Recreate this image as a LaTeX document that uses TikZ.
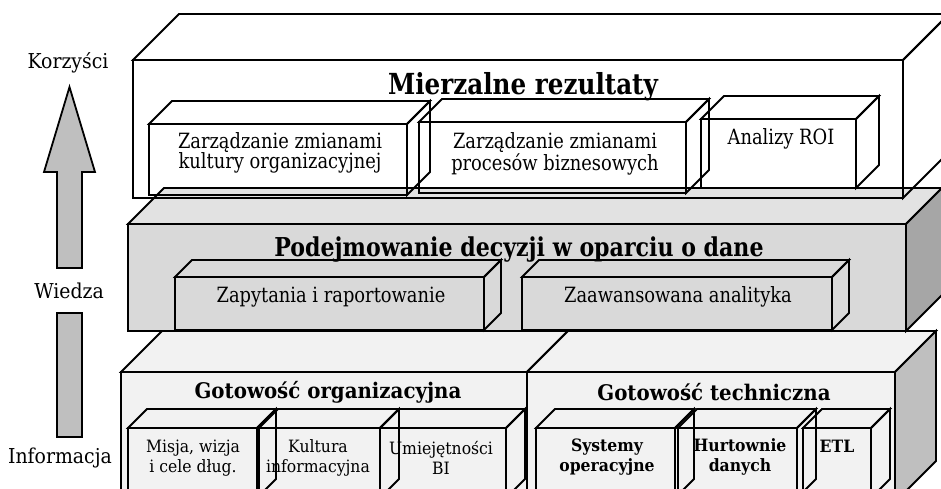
\documentclass[tikz,border=0pt]{standalone}
\usepackage{fontspec}
\setmainfont{DejaVu Serif}
\newfontfamily\narrowfont{DejaVu Serif}[FakeStretch=0.85]
\newfontfamily\widefont{DejaVu Serif}[FakeStretch=0.92]

\definecolor{palegray}{HTML}{F2F2F2}
\definecolor{palesidegray}{HTML}{BFBFBF}
\definecolor{midgray}{HTML}{D9D9D9}
\definecolor{midtopgray}{HTML}{E2E2E2}
\definecolor{midsidegray}{HTML}{A6A6A6}
\definecolor{arrowgray}{HTML}{BFBFBF}

\newcommand{\cuboid}[8]{%
  \filldraw[fill=#6] (#1,#2) rectangle ++(#3,#4);
  \filldraw[fill=#7] (#1,#2) -- ++(#5,-#5) -- ++(#3,0) -- ++(-#5,#5) -- cycle;
  \filldraw[fill=#8] (#1+#3,#2) -- ++(#5,-#5) -- ++(0,#4) -- ++(-#5,#5) -- cycle;
}

\tikzset{
  layertitle/.style={inner sep=0pt, font={\narrowfont\bfseries\fontsize{26}{30}\selectfont}},
  toptitle/.style={inner sep=0pt, font={\narrowfont\bfseries\fontsize{29}{32}\selectfont}},
  basetitle/.style={inner sep=0pt, font={\widefont\bfseries\fontsize{21.5}{24}\selectfont}},
  itemtext/.style={inner sep=0pt, align=center, font={\narrowfont\fontsize{21}{20}\selectfont}},
  baseitem/.style={inner sep=0pt, align=center, font={\widefont\fontsize{17}{20}\selectfont}},
  baseitembold/.style={baseitem, font={\widefont\bfseries\fontsize{17}{20}\selectfont}},
  sidelabel/.style={inner sep=2pt, font={\widefont\fontsize{20.5}{22}\selectfont}}
}

\begin{document}
\begin{tikzpicture}[x=1pt,y=-1pt,line width=1.8pt]
\useasboundingbox (0,0) rectangle (941,489);
\clip (0,0) rectangle (941,489);

\cuboid{121}{372}{406}{130}{41}{palegray}{palegray}{palesidegray}
\cuboid{527}{372}{368}{130}{41}{palegray}{palegray}{palesidegray}
\node[basetitle] (orgtitle) at (328,392) {Gotowość organizacyjna};
\node[basetitle] (techtitle) at (714,392) {Gotowość techniczna};

\cuboid{128}{428}{129}{70}{19}{none}{none}{none}
\cuboid{259}{428}{121}{70}{19}{none}{none}{none}
\cuboid{380}{428}{126}{70}{19}{none}{none}{none}
\node[baseitem] (mission) at (193,458) {Misja, wizja\\i cele dług.};
\node[baseitem] (culture) at (318,458) {Kultura\\informacyjna};
\node[baseitem] (skills) at (441,458) {Umiejętności\\BI};

\cuboid{536}{428}{139}{70}{19}{none}{none}{none}
\cuboid{678}{428}{119}{70}{19}{none}{none}{none}
\cuboid{803}{428}{68}{70}{19}{none}{none}{none}
\node[baseitembold] (opsys) at (607,457) {Systemy\\operacyjne};
\node[baseitembold] (warehouse) at (740,457) {Hurtownie\\danych};
\node[baseitembold] (etl) at (837,446) {ETL};

\cuboid{128}{224}{778}{107}{36}{midgray}{midtopgray}{midsidegray}
\node[layertitle] (decisions) at (519,250) {Podejmowanie decyzji w oparciu o dane};
\cuboid{175}{277}{309}{53}{17}{none}{none}{none}
\cuboid{522}{277}{310}{53}{17}{none}{none}{none}
\node[itemtext] (queries) at (331,297) {Zapytania i raportowanie};
\node[itemtext] (analytics) at (678,297) {Zaawansowana analityka};

\cuboid{133}{60}{770}{138}{46}{none}{none}{none}
\node[toptitle] (results) at (523,87) {Mierzalne rezultaty};
\cuboid{149}{124}{258}{71}{23}{none}{none}{none}
\cuboid{419}{122}{267}{71}{23}{none}{none}{none}
\cuboid{701}{119}{155}{69}{23}{none}{none}{none}
\node[itemtext] (culturechange) at (280,153) {Zarządzanie zmianami\\kultury organizacyjnej};
\node[itemtext] (processchange) at (555,154) {Zarządzanie zmianami\\procesów biznesowych};
\node[itemtext] (roi) at (781,139) {Analizy ROI};

\filldraw[fill=arrowgray] (57,268) -- (57,172) -- (44,172) -- (69.5,87) -- (95,172) -- (82,172) -- (82,268) -- cycle;
\filldraw[fill=arrowgray] (57,313) rectangle (82,437);
\node[sidelabel] (benefits) at (68,63) {Korzyści};
\node[sidelabel] (knowledge) at (69,291) {Wiedza};
\node[sidelabel] (information) at (60,458) {Informacja};
\end{tikzpicture}
\end{document}
